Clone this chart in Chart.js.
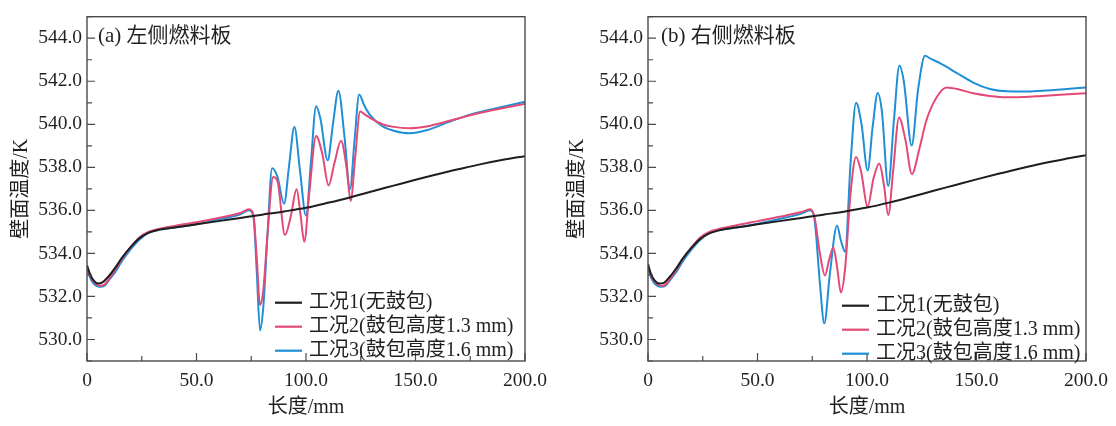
<!DOCTYPE html>
<html lang="zh">
<head>
<meta charset="utf-8">
<title>壁面温度</title>
<script src="https://cdn.jsdelivr.net/npm/chart.js@4.4.1/dist/chart.umd.min.js"></script>
<style>
  html, body { margin: 0; padding: 0; background: #fff; }
  #wrap { position: relative; width: 1116px; height: 426px; }
  #wrap canvas { position: absolute; top: 0; }
  #chartLeft { left: 0; }
  #chartRight { left: 558px; }
</style>
</head>
<body>
<div id="wrap">
  <canvas id="chartLeft" width="558" height="426"></canvas>
  <canvas id="chartRight" width="558" height="426"></canvas>
</div>
<script>
// 图例文字与颜色
const etiquetas = ['工况1(无鼓包)', '工况2(鼓包高度1.3 mm)', '工况3(鼓包高度1.6 mm)'];
const colores = ['#1e1e1e', '#e44a76', '#1f8fd6'];
const titulos = ['(a) 左侧燃料板', '(b) 右侧燃料板'];

// (a) 左侧燃料板
const izq1X = [0, 1.5, 3, 5, 7, 10, 13, 16, 20, 24, 28, 32, 40, 50, 60, 70, 80, 90, 100, 110, 120, 130, 140, 150, 160, 170, 180, 190, 200];
const izq1Y = [533.45, 533.0, 532.75, 532.6, 532.65, 532.95, 533.35, 533.8, 534.3, 534.7, 534.95, 535.08, 535.2, 535.35, 535.5, 535.65, 535.8, 535.95, 536.12, 536.35, 536.6, 536.88, 537.15, 537.42, 537.68, 537.92, 538.15, 538.35, 538.52];

const izq2X = [0, 1.5, 3, 6, 8, 10, 13, 16, 20, 24, 28, 32, 40, 50, 60, 70, 74, 76, 77.5, 79, 80.5, 82.5, 85, 87, 90.4, 93, 95.7, 97.5, 99.2, 101.5, 104.6, 107.5, 110.3, 113, 116, 118.5, 120.4, 122.5, 124.7, 127, 130, 135, 140, 147.5, 155, 165, 175, 185, 200];
const izq2Y = [533.35, 532.95, 532.7, 532.5, 532.55, 532.8, 533.25, 533.75, 534.3, 534.75, 535.0, 535.12, 535.28, 535.45, 535.65, 535.88, 536.05, 535.8, 533.8, 531.6, 532.3, 535.0, 537.55, 537.35, 534.85, 535.7, 536.98, 535.8, 534.54, 536.8, 539.46, 538.6, 537.16, 538.2, 539.23, 538.0, 536.45, 538.5, 540.59, 540.45, 540.25, 540.0, 539.88, 539.82, 539.9, 540.15, 540.42, 540.65, 540.95];

const izq3X = [0, 1.5, 3, 6, 8, 10, 13, 16, 20, 24, 28, 32, 40, 50, 60, 70, 74, 76, 77.5, 79, 80.5, 82.5, 84.5, 86.9, 90, 92.3, 94.7, 97.3, 100, 102.3, 104.6, 106.5, 109.9, 112.3, 114.8, 117.5, 120.1, 122.2, 124.3, 126.5, 129.2, 135, 140, 147.5, 155, 165, 175, 185, 200];
const izq3Y = [533.3, 532.85, 532.6, 532.45, 532.5, 532.75, 533.15, 533.65, 534.2, 534.65, 534.95, 535.08, 535.2, 535.35, 535.58, 535.82, 536.0, 535.7, 533.2, 530.42, 531.5, 535.0, 537.96, 537.58, 536.31, 538.1, 539.88, 537.8, 535.75, 538.3, 540.84, 540.3, 538.33, 540.0, 541.56, 539.5, 536.98, 539.3, 541.38, 540.9, 540.44, 539.9, 539.7, 539.58, 539.72, 540.1, 540.45, 540.7, 541.05];

// (b) 右侧燃料板
const der1X = [0, 1.5, 3, 5, 7, 10, 13, 16, 20, 24, 28, 32, 40, 50, 60, 70, 80, 90, 100, 110, 120, 130, 140, 150, 160, 170, 180, 190, 200];
const der1Y = [533.5, 533.0, 532.75, 532.6, 532.62, 532.92, 533.32, 533.78, 534.28, 534.68, 534.93, 535.06, 535.2, 535.35, 535.5, 535.65, 535.8, 535.95, 536.13, 536.36, 536.62, 536.9, 537.17, 537.44, 537.7, 537.95, 538.18, 538.38, 538.56];

const der2X = [0, 1.5, 3, 6, 8, 10, 13, 16, 20, 24, 28, 32, 40, 50, 60, 70, 74, 76, 78.5, 80.8, 82.7, 84.6, 86.3, 88.1, 90, 92.5, 95, 97.3, 100.3, 103, 105.6, 107.7, 109.7, 112, 114.6, 117.5, 120.5, 124, 127.2, 131.8, 136.4, 142, 148.5, 156, 163.8, 172, 180, 190, 200];
const der2Y = [533.35, 532.95, 532.7, 532.5, 532.55, 532.8, 533.25, 533.75, 534.3, 534.75, 535.0, 535.12, 535.3, 535.5, 535.7, 535.92, 536.05, 535.7, 534.0, 532.97, 533.7, 534.28, 533.4, 532.18, 533.3, 536.8, 538.48, 537.8, 536.18, 537.5, 538.18, 537.2, 535.78, 537.9, 540.32, 539.3, 537.69, 538.9, 540.21, 541.26, 541.71, 541.62, 541.44, 541.32, 541.26, 541.27, 541.32, 541.38, 541.44];

const der3X = [0, 1.5, 3, 6, 8, 10, 13, 16, 20, 24, 28, 32, 40, 50, 60, 70, 74, 76, 78.5, 80.5, 83, 86.3, 88.2, 90, 92.5, 95, 97.5, 100.3, 102.6, 104.9, 106.8, 109.7, 112.3, 114.8, 116.8, 120.4, 123.3, 126.5, 129, 133.3, 140.9, 148.5, 156.1, 163.8, 172, 180, 190, 200];
const der3Y = [533.3, 532.85, 532.6, 532.45, 532.5, 532.75, 533.15, 533.65, 534.2, 534.65, 534.95, 535.08, 535.2, 535.38, 535.6, 535.85, 536.0, 535.6, 532.6, 530.75, 533.0, 535.28, 534.55, 534.08, 538.2, 541.0, 540.0, 537.85, 539.9, 541.46, 540.6, 537.13, 540.2, 542.73, 542.0, 539.01, 541.6, 543.18, 543.05, 542.84, 542.39, 541.94, 541.64, 541.53, 541.52, 541.56, 541.63, 541.71];

const fuente = "'Liberation Serif', 'Noto Sans CJK SC', serif";
const colorTexto = '#231f20';

// Marco, marcas hacia dentro, título del panel y leyenda
const decoPanel = {
    id: 'decoPanel',
    afterDatasetsDraw(chart, args, opts) {
        const { ctx, chartArea: a, scales: { x, y } } = chart;
        ctx.save();
        ctx.strokeStyle = '#4a4a4a';
        ctx.lineWidth = 1.4;
        ctx.strokeRect(a.left, a.top, a.right - a.left, a.bottom - a.top);

        ctx.lineWidth = 1.2;
        ctx.beginPath();
        y.ticks.forEach(t => {
            const py = y.getPixelForValue(t.value);
            const len = t.value % 2 === 0 ? 8 : 5;
            ctx.moveTo(a.left, py);
            ctx.lineTo(a.left + len, py);
        });
        x.ticks.forEach(t => {
            const px = x.getPixelForValue(t.value);
            const len = t.value % 50 === 0 ? 8 : 5;
            ctx.moveTo(px, a.bottom);
            ctx.lineTo(px, a.bottom - len);
        });
        ctx.stroke();

        ctx.fillStyle = colorTexto;
        ctx.textBaseline = 'middle';
        ctx.font = '21px ' + fuente;
        ctx.fillText(opts.titulo, a.left + opts.tituloX, a.top + 20);

        ctx.font = '20px ' + fuente;
        chart.data.datasets.forEach((ds, i) => {
            const ly = a.top + opts.leyendaY + i * 24;
            const lx = a.left + opts.leyendaX;
            ctx.strokeStyle = ds.borderColor;
            ctx.lineWidth = 2.2;
            ctx.beginPath();
            ctx.moveTo(lx, ly);
            ctx.lineTo(lx + 27, ly);
            ctx.stroke();
            ctx.fillText(ds.label, lx + 34, ly);
        });
        ctx.restore();
    }
};

function crearPanel(id, series, cfg) {
    const ctx = document.getElementById(id).getContext('2d');
    return new Chart(ctx, {
        type: 'line',
        data: {
            datasets: series.map((s, i) => ({
                label: etiquetas[i],
                data: s[0].map((v, k) => ({ x: v, y: s[1][k] })),
                borderColor: colores[i],
                borderWidth: 2,
                pointRadius: 0,
                cubicInterpolationMode: 'monotone',
                fill: false
            }))
        },
        options: {
            responsive: false,
            animation: false,
            layout: { padding: { top: 7, right: cfg.padDerecha, left: 0, bottom: 0 } },
            plugins: {
                legend: { display: false },
                tooltip: { enabled: false },
                decoPanel: cfg
            },
            scales: {
                x: {
                    type: 'linear',
                    min: 0,
                    max: 200,
                    afterFit: s => { s.height = 65; },
                    grid: { display: false, drawTicks: false },
                    border: { display: false },
                    ticks: {
                        stepSize: 25,
                        autoSkip: false,
                        maxRotation: 0,
                        padding: 8,
                        color: colorTexto,
                        font: { family: fuente, size: 19.5 },
                        callback: v => v === 0 ? '0' : (v % 50 === 0 ? v.toFixed(1) : '')
                    },
                    title: {
                        display: true,
                        text: '长度/mm',
                        color: colorTexto,
                        font: { family: fuente, size: 20 },
                        padding: { top: 0, bottom: 6 }
                    }
                },
                y: {
                    min: 529,
                    max: 545,
                    afterFit: s => { s.width = cfg.anchoY; },
                    grid: { display: false, drawTicks: false },
                    border: { display: false },
                    ticks: {
                        stepSize: 1,
                        autoSkip: false,
                        padding: 5,
                        color: colorTexto,
                        font: { family: fuente, size: 19.5 },
                        callback: v => v % 2 === 0 ? v.toFixed(1) : ''
                    },
                    title: {
                        display: true,
                        text: '壁面温度/K',
                        color: colorTexto,
                        font: { family: fuente, size: 20 },
                        padding: { top: cfg.tituloYPad, bottom: 0 }
                    }
                }
            }
        },
        plugins: [decoPanel]
    });
}

crearPanel('chartLeft', [[izq1X, izq1Y], [izq2X, izq2Y], [izq3X, izq3Y]], {
    titulo: titulos[0], tituloX: 11, leyendaX: 188, leyendaY: 286,
    anchoY: 87, padDerecha: 33, tituloYPad: 10
});
crearPanel('chartRight', [[der1X, der1Y], [der2X, der2Y], [der3X, der3Y]], {
    titulo: titulos[1], tituloX: 13, leyendaX: 194, leyendaY: 289,
    anchoY: 90, padDerecha: 30, tituloYPad: 8
});
</script>
</body>
</html>
